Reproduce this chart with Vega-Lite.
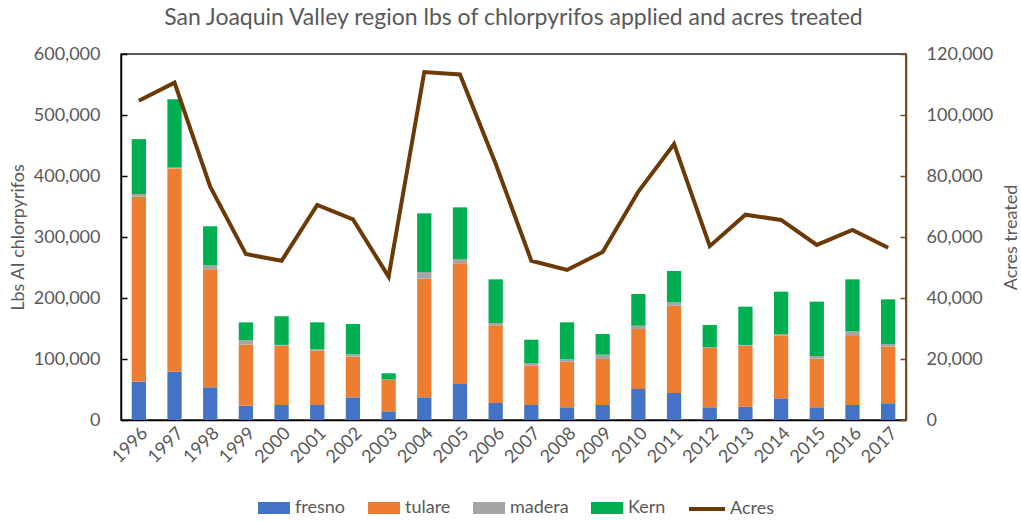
{
  "$schema": "https://vega.github.io/schema/vega-lite/v6.json",
  "width": 785,
  "height": 366,
  "autosize": {"type": "none"},
  "padding": {"left": 121, "top": 54, "right": 115, "bottom": 101},
  "background": "white",
  "config": {
    "font": "Lato",
    "view": {"stroke": "#262626", "strokeWidth": 1.5},
    "axis": {
      "labelFont": "Lato",
      "labelFontSize": 18,
      "labelColor": "#595959",
      "titleFont": "Lato",
      "titleFontSize": 18,
      "titleColor": "#595959",
      "titleFontWeight": "normal",
      "grid": false
    },
    "legend": {
      "labelFont": "Lato",
      "labelFontSize": 18,
      "labelColor": "#595959",
      "padding": 0
    }
  },
  "title": {
    "text": "San Joaquin Valley region lbs of chlorpyrifos applied and acres treated",
    "font": "Lato",
    "fontSize": 23,
    "fontWeight": "normal",
    "color": "#595959",
    "anchor": "middle",
    "offset": 15
  },
  "datasets": {
    "lbs": [
      {"year": "1996", "county": "fresno", "lbs": 63000}, {"year": "1996", "county": "tulare", "lbs": 303000}, {"year": "1996", "county": "madera", "lbs": 4500}, {"year": "1996", "county": "Kern", "lbs": 90000},
      {"year": "1997", "county": "fresno", "lbs": 79000}, {"year": "1997", "county": "tulare", "lbs": 333500}, {"year": "1997", "county": "madera", "lbs": 1500}, {"year": "1997", "county": "Kern", "lbs": 112000},
      {"year": "1998", "county": "fresno", "lbs": 53600}, {"year": "1998", "county": "tulare", "lbs": 193400}, {"year": "1998", "county": "madera", "lbs": 6600}, {"year": "1998", "county": "Kern", "lbs": 64000},
      {"year": "1999", "county": "fresno", "lbs": 23500}, {"year": "1999", "county": "tulare", "lbs": 100000}, {"year": "1999", "county": "madera", "lbs": 7500}, {"year": "1999", "county": "Kern", "lbs": 29000},
      {"year": "2000", "county": "fresno", "lbs": 24600}, {"year": "2000", "county": "tulare", "lbs": 97300}, {"year": "2000", "county": "madera", "lbs": 1200}, {"year": "2000", "county": "Kern", "lbs": 47000},
      {"year": "2001", "county": "fresno", "lbs": 24600}, {"year": "2001", "county": "tulare", "lbs": 89000}, {"year": "2001", "county": "madera", "lbs": 2200}, {"year": "2001", "county": "Kern", "lbs": 44300},
      {"year": "2002", "county": "fresno", "lbs": 37200}, {"year": "2002", "county": "tulare", "lbs": 66600}, {"year": "2002", "county": "madera", "lbs": 3900}, {"year": "2002", "county": "Kern", "lbs": 49700},
      {"year": "2003", "county": "fresno", "lbs": 14200}, {"year": "2003", "county": "tulare", "lbs": 51400}, {"year": "2003", "county": "madera", "lbs": 800}, {"year": "2003", "county": "Kern", "lbs": 10200},
      {"year": "2004", "county": "fresno", "lbs": 37200}, {"year": "2004", "county": "tulare", "lbs": 194500}, {"year": "2004", "county": "madera", "lbs": 10900}, {"year": "2004", "county": "Kern", "lbs": 96200},
      {"year": "2005", "county": "fresno", "lbs": 59000}, {"year": "2005", "county": "tulare", "lbs": 197800}, {"year": "2005", "county": "madera", "lbs": 7100}, {"year": "2005", "county": "Kern", "lbs": 84700},
      {"year": "2006", "county": "fresno", "lbs": 27900}, {"year": "2006", "county": "tulare", "lbs": 127300}, {"year": "2006", "county": "madera", "lbs": 3800}, {"year": "2006", "county": "Kern", "lbs": 71600},
      {"year": "2007", "county": "fresno", "lbs": 24600}, {"year": "2007", "county": "tulare", "lbs": 64500}, {"year": "2007", "county": "madera", "lbs": 4300}, {"year": "2007", "county": "Kern", "lbs": 38300},
      {"year": "2008", "county": "fresno", "lbs": 20800}, {"year": "2008", "county": "tulare", "lbs": 74800}, {"year": "2008", "county": "madera", "lbs": 4400}, {"year": "2008", "county": "Kern", "lbs": 60100},
      {"year": "2009", "county": "fresno", "lbs": 24600}, {"year": "2009", "county": "tulare", "lbs": 75400}, {"year": "2009", "county": "madera", "lbs": 7100}, {"year": "2009", "county": "Kern", "lbs": 33900},
      {"year": "2010", "county": "fresno", "lbs": 50800}, {"year": "2010", "county": "tulare", "lbs": 98400}, {"year": "2010", "county": "madera", "lbs": 5400}, {"year": "2010", "county": "Kern", "lbs": 52000},
      {"year": "2011", "county": "fresno", "lbs": 44300}, {"year": "2011", "county": "tulare", "lbs": 143100}, {"year": "2011", "county": "madera", "lbs": 5500}, {"year": "2011", "county": "Kern", "lbs": 51400},
      {"year": "2012", "county": "fresno", "lbs": 20800}, {"year": "2012", "county": "tulare", "lbs": 97200}, {"year": "2012", "county": "madera", "lbs": 1200}, {"year": "2012", "county": "Kern", "lbs": 36600},
      {"year": "2013", "county": "fresno", "lbs": 21900}, {"year": "2013", "county": "tulare", "lbs": 100000}, {"year": "2013", "county": "madera", "lbs": 1100}, {"year": "2013", "county": "Kern", "lbs": 62800},
      {"year": "2014", "county": "fresno", "lbs": 35500}, {"year": "2014", "county": "tulare", "lbs": 103300}, {"year": "2014", "county": "madera", "lbs": 2200}, {"year": "2014", "county": "Kern", "lbs": 69400},
      {"year": "2015", "county": "fresno", "lbs": 20800}, {"year": "2015", "county": "tulare", "lbs": 79700}, {"year": "2015", "county": "madera", "lbs": 4400}, {"year": "2015", "county": "Kern", "lbs": 89100},
      {"year": "2016", "county": "fresno", "lbs": 24600}, {"year": "2016", "county": "tulare", "lbs": 113100}, {"year": "2016", "county": "madera", "lbs": 7700}, {"year": "2016", "county": "Kern", "lbs": 85200},
      {"year": "2017", "county": "fresno", "lbs": 26200}, {"year": "2017", "county": "tulare", "lbs": 94000}, {"year": "2017", "county": "madera", "lbs": 4400}, {"year": "2017", "county": "Kern", "lbs": 73200}
    ],
    "acres": [
      {"year": "1996", "acres": 104700}, {"year": "1997", "acres": 110600}, {"year": "1998", "acres": 76500},
      {"year": "1999", "acres": 54400}, {"year": "2000", "acres": 52200}, {"year": "2001", "acres": 70500},
      {"year": "2002", "acres": 65800}, {"year": "2003", "acres": 47000}, {"year": "2004", "acres": 114100},
      {"year": "2005", "acres": 113300}, {"year": "2006", "acres": 84000}, {"year": "2007", "acres": 52200},
      {"year": "2008", "acres": 49200}, {"year": "2009", "acres": 55100}, {"year": "2010", "acres": 74900},
      {"year": "2011", "acres": 90500}, {"year": "2012", "acres": 57000}, {"year": "2013", "acres": 67300},
      {"year": "2014", "acres": 65600}, {"year": "2015", "acres": 57400}, {"year": "2016", "acres": 62300},
      {"year": "2017", "acres": 56500}
    ]
  },
  "layer": [
    {
      "data": {"name": "lbs"},
      "transform": [
        {"calculate": "indexof(['fresno','tulare','madera','Kern'], datum.county)", "as": "stackOrder"}
      ],
      "mark": {"type": "bar"},
      "encoding": {
        "x": {
          "field": "year",
          "type": "ordinal",
          "scale": {"paddingInner": 0.6, "paddingOuter": 0.3},
          "axis": {
            "title": null,
            "labelAngle": -45,
            "ticks": false,
            "domainColor": "#000000",
            "domainWidth": 1.5,
            "labelPadding": 4
          }
        },
        "y": {
          "field": "lbs",
          "type": "quantitative",
          "stack": "zero",
          "scale": {"domain": [0, 600000], "nice": false},
          "axis": {
            "title": "Lbs AI chlorpyrifos",
            "values": [0, 100000, 200000, 300000, 400000, 500000, 600000],
            "format": ",d",
            "domainColor": "#000000",
            "domainWidth": 1.5,
            "tickColor": "#000000",
            "tickWidth": 1.5,
            "tickSize": -6,
            "labelPadding": 27,
            "titlePadding": 6
          }
        },
        "color": {
          "field": "county",
          "type": "nominal",
          "scale": {
            "domain": ["fresno", "tulare", "madera", "Kern"],
            "range": ["#4472C4", "#ED7D31", "#A5A5A5", "#00B050"]
          },
          "legend": {
            "orient": "none",
            "legendX": 137,
            "legendY": 438,
            "direction": "horizontal",
            "title": null,
            "symbolType": "M-1,-0.375H1V0.375H-1Z",
            "symbolSize": 1024,
            "symbolStrokeWidth": 0,
            "labelOffset": 5,
            "columnPadding": 22
          }
        },
        "order": {"field": "stackOrder", "type": "quantitative"}
      }
    },
    {
      "data": {"name": "acres"},
      "mark": {"type": "line", "strokeWidth": 4, "strokeJoin": "miter"},
      "encoding": {
        "x": {"field": "year", "type": "ordinal", "bandPosition": 0.5},
        "y": {
          "field": "acres",
          "type": "quantitative",
          "scale": {"domain": [0, 120000], "nice": false},
          "axis": {
            "orient": "right",
            "title": "Acres treated",
            "titleAngle": -90,
            "values": [0, 20000, 40000, 60000, 80000, 100000, 120000],
            "format": ",d",
            "domainColor": "#7A4A1A",
            "domainWidth": 1.5,
            "tickColor": "#7A4A1A",
            "tickWidth": 1.5,
            "tickSize": -6,
            "labelPadding": 26,
            "titlePadding": 28
          }
        },
        "stroke": {
          "datum": "Acres",
          "scale": {"domain": ["Acres"], "range": ["#6B3A07"]},
          "legend": {
            "orient": "none",
            "legendX": 566,
            "legendY": 435,
            "direction": "horizontal",
            "title": null,
            "symbolType": "stroke",
            "symbolSize": 1296,
            "symbolStrokeWidth": 4,
            "labelOffset": 3
          }
        }
      }
    }
  ],
  "resolve": {"scale": {"y": "independent", "color": "independent"}}
}
